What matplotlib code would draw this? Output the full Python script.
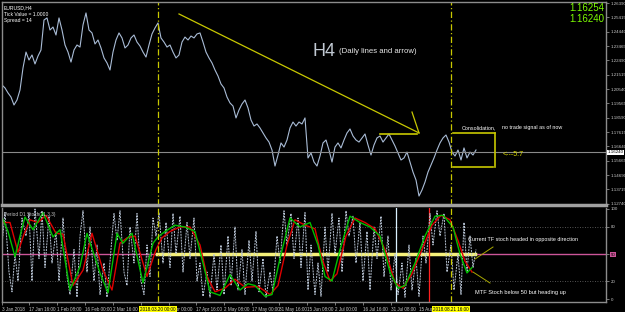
import matplotlib.pyplot as plt
import numpy as np

plt.rcParams['font.family'] = ['Liberation Sans', 'DejaVu Sans']

# EURUSD H4 closes, one reading every 3 chart pixels (3 Jan -> 21 Aug 2018)
price = [
    1.2082, 1.2062, 1.2028, 1.2000, 1.1946, 1.1980, 1.2048, 1.2198, 1.2306, 1.2252,
    1.2286, 1.2225, 1.2279, 1.2320, 1.2524, 1.2538, 1.2456, 1.2476, 1.2422, 1.2538,
    1.2456, 1.2354, 1.2306, 1.2238, 1.2320, 1.2354, 1.2340, 1.2490, 1.2572, 1.2456,
    1.2436, 1.2361, 1.2388, 1.2334, 1.2266, 1.2232, 1.2184, 1.2306, 1.2388, 1.2436,
    1.2402, 1.2334, 1.2354, 1.2402, 1.2422, 1.2374, 1.2347, 1.2306, 1.2272, 1.2354,
    1.2429, 1.2470, 1.2504, 1.2402, 1.2374, 1.2340, 1.2354, 1.2306, 1.2266, 1.2286,
    1.2374, 1.2408, 1.2388, 1.2415, 1.2402, 1.2429, 1.2436, 1.2374, 1.2306, 1.2266,
    1.2232, 1.2184, 1.2143, 1.2089, 1.2062, 1.2000, 1.1960, 1.1939, 1.1858, 1.1912,
    1.1953, 1.1980, 1.1926, 1.1844, 1.1803, 1.1817, 1.1790, 1.1756, 1.1722, 1.1694,
    1.1640, 1.1531, 1.1606, 1.1688, 1.1660, 1.1708, 1.1790, 1.1830, 1.1803, 1.1830,
    1.1817, 1.1858, 1.1586, 1.1620, 1.1558, 1.1531, 1.1599, 1.1688, 1.1708, 1.1640,
    1.1558, 1.1660, 1.1688, 1.1654, 1.1708, 1.1756, 1.1783, 1.1735, 1.1708, 1.1694,
    1.1722, 1.1749, 1.1674, 1.1606, 1.1674, 1.1722, 1.1735, 1.1694, 1.1722, 1.1749,
    1.1708, 1.1667, 1.1620, 1.1572, 1.1586, 1.1626, 1.1558, 1.1490, 1.1436, 1.1327,
    1.1368, 1.1422, 1.1490, 1.1538, 1.1586, 1.1640, 1.1688, 1.1722, 1.1742, 1.1694,
    1.1626, 1.1599, 1.1640, 1.1572, 1.1654, 1.1586, 1.1626, 1.1606, 1.1640,
]
bid = 1.16240
ask = 1.16254

price_ticks = [1.26390, 1.25415, 1.24440, 1.23465, 1.22490, 1.21515, 1.20540, 1.19565,
               1.18590, 1.17615, 1.16640, 1.15665, 1.14690, 1.13715, 1.12740]

# time axis (chart positions) and labels; the 19 Mar label sits under the marker box
time_ticks = [2, 29, 57, 85, 113, 141, 169, 196, 224, 252, 279, 307, 335, 363, 391, 419]
time_labels = ['3 Jan 2018', '17 Jan 16:00', '1 Feb 08:00', '16 Feb 00:00', '2 Mar 16:00',
               '', '3 Apr 00:00', '17 Apr 16:00', '2 May 08:00', '17 May 00:00',
               '31 May 16:00', '15 Jun 08:00', '2 Jul 00:00', '16 Jul 16:00', '31 Jul 08:00',
               '15 Aug 00:00']
marker_times = [158, 451]
marker_labels = ['2018.03.20 00:00', '2018.08.21 16:00']

# current timeframe stochastic (turning points)
fast_t = [2, 5, 9, 12, 15, 18, 22, 26, 29, 32, 35, 39, 42, 45, 49, 52, 56, 59, 63, 67,
          70, 74, 77, 80, 83, 87, 90, 94, 97, 100, 104, 107, 111, 114, 117, 120, 124, 127,
          130, 134, 137, 141, 144, 147, 150, 153, 156, 159, 163, 166, 170, 173, 176, 180,
          183, 187, 190, 194, 197, 200, 203, 207, 210, 214, 217, 221, 224, 228, 231, 235,
          238, 242, 245, 249, 252, 256, 259, 263, 266, 270, 273, 277, 280, 284, 287, 291,
          294, 298, 301, 305, 308, 311, 315, 318, 321, 325, 328, 332, 335, 339, 342, 346,
          349, 353, 356, 360, 363, 367, 370, 374, 377, 381, 384, 388, 391, 395, 398, 402,
          405, 409, 412, 416, 419, 423, 426, 430, 433, 437, 440, 444, 447, 451, 454, 458,
          461, 464, 467, 470, 473, 476]
fast_k = [60, 96, 30, 8, 50, 20, 90, 70, 95, 20, 100, 45, 98, 35, 92, 40, 75, 20, 90, 25,
          5, 55, 2, 70, 98, 30, 80, 20, 60, 5, 40, 2, 55, 95, 65, 98, 30, 15,
          80, 40, 95, 20, 5, 60, 25, 90, 70, 96, 40, 85, 35, 95, 50, 92,
          30, 85, 45, 90, 20, 40, 3, 30, 2, 50, 10, 60, 5, 70, 15, 80,
          10, 55, 5, 65, 20, 75, 8, 45, 2, 30, 8, 70, 40, 98, 60, 95,
          45, 90, 35, 96, 10, 60, 5, 40, 3, 80, 30, 95, 50, 90, 30, 98,
          70, 92, 40, 85, 20, 75, 10, 80, 45, 92, 25, 70, 10, 50, 5, 40,
          2, 60, 10, 45, 3, 70, 40, 95, 60, 98, 70, 95, 30, 60, 10, 50,
          5, 85, 30, 70, 35, 55]

# D1 stochastic main (green) and signal (red)
mtf_main_t = [2, 8, 15, 20, 25, 33, 43, 53, 60, 70, 80, 87, 100, 108, 117, 123, 132, 143,
              153, 158, 165, 175, 185, 195, 203, 210, 220, 230, 240, 248, 255, 265, 272,
              280, 290, 300, 310, 318, 325, 332, 340, 350, 360, 370, 380, 390, 398, 405,
              415, 425, 435, 443, 453, 460, 467, 472]
mtf_main = [91, 75, 47, 70, 91, 77, 96, 69, 77, 10, 36, 73, 29, 7, 73, 62, 73, 18,
            62, 69, 75, 82, 80, 75, 40, 8, 4, 27, 10, 17, 15, 3, 5,
            45, 90, 80, 85, 60, 25, 20, 55, 92, 85, 80, 70, 30, 12, 15,
            40, 70, 92, 93, 80, 50, 29, 35]
mtf_signal_t = [2, 10, 18, 24, 30, 38, 46, 56, 63, 73, 83, 92, 103, 112, 120, 127, 135,
                147, 156, 162, 170, 180, 190, 200, 207, 215, 225, 235, 245, 258, 270, 278,
                287, 295, 305, 315, 322, 330, 337, 346, 355, 365, 375, 385, 395, 403, 412,
                422, 432, 441, 450, 458, 465, 472]
mtf_signal = [85, 85, 52, 72, 88, 85, 93, 73, 72, 15, 32, 73, 32, 10, 62, 68, 70,
              25, 55, 68, 75, 80, 80, 60, 25, 8, 12, 22, 13, 14, 5, 15,
              60, 88, 82, 78, 45, 20, 28, 70, 90, 85, 78, 55, 18, 12, 28,
              55, 82, 93, 88, 65, 42, 30]

# hand-drawn objects on the chart (time, price)
trend_line = [(179, 1.2565), (419, 1.1756)]
arrow_leg = [(412, 1.1898), (419, 1.1756)]
resist_line = [(380, 1.1749), (417, 1.1749)]
box_top = [(453, 1.1756), (495, 1.1756)]
box_bottom = [(453, 1.1524), (493, 1.1524)]
box_side = [(495, 1.1756), (495, 1.1524)]

W, H = 625, 312


def px_box(l, t, r, b):
    return [l / W, 1 - b / H, (r - l) / W, (b - t) / H]


fig = plt.figure(figsize=(W / 100, H / 100), dpi=100, facecolor='black')
ax1 = fig.add_axes(px_box(2, 2, 606, 205), facecolor='black')
ax2 = fig.add_axes(px_box(2, 208, 606, 302), facecolor='black')

grey = '#8c8c8c'
yellow = '#c8c800'
label_col = '#c8c8c8'

# ---- main price panel ----
price_x = 2 + 3 * np.arange(len(price))
ax1.plot(price_x, price, color='#a9bcd6', lw=0.8)
ax1.axhline(bid, color='#8a8a8a', lw=0.8)

for seg, lw in [(trend_line, 0.9), (arrow_leg, 0.9), (resist_line, 1.2),
                (box_top, 1.2), (box_bottom, 1.2), (box_side, 1.2)]:
    xs, ys = zip(*seg)
    ax1.plot(xs, ys, color=yellow, lw=lw)

ax1.set_xlim(2, 606)
ax1.set_ylim(1.12660, 1.26464)
ax1.set_xticks([])
ax1.yaxis.tick_right()
ax1.set_yticks(price_ticks, ['%.5f' % v for v in price_ticks])
ax1.tick_params(axis='y', colors=grey, labelcolor=label_col, labelsize=3.2,
                length=2, width=0.6, pad=1.2)
for side in ['left', 'top', 'right']:
    ax1.spines[side].set_color(grey)
    ax1.spines[side].set_linewidth(1)
ax1.spines['bottom'].set_color('#a0a0a0')
ax1.spines['bottom'].set_linewidth(2.5)

ax1.text(1.003, bid, '%.5f' % bid, transform=ax1.get_yaxis_transform(), fontsize=3.2,
         color='black', va='center', ha='left',
         bbox=dict(facecolor='white', edgecolor='none', pad=0.4))

ax1.text(0.003, 0.985, 'EURUSD,H4', transform=ax1.transAxes, fontsize=3.6,
         color='white', va='top')
ax1.text(0.003, 0.952, 'Tick Value = 1.0000', transform=ax1.transAxes, fontsize=3.6,
         color='white', va='top')
ax1.text(0.003, 0.919, 'Spread = 14', transform=ax1.transAxes, fontsize=3.6,
         color='white', va='top')

ax1.text(0.997, 0.97, '%.5f' % ask, transform=ax1.transAxes, fontsize=7,
         color='#7cfc00', ha='right', va='center')
ax1.text(0.997, 0.915, '%.5f' % bid, transform=ax1.transAxes, fontsize=7,
         color='#7cfc00', ha='right', va='center')

ax1.text(312, 1.2313, 'H4', fontsize=13, color='#c0c8d2', va='center', ha='left')
ax1.text(339, 1.2313, '(Daily lines and arrow)', fontsize=5.6, color='#e8e8e8',
         va='center', ha='left')
ax1.text(462, 1.1790, 'Consolidation,', fontsize=3.9, color='white', va='center')
ax1.text(502, 1.1790, 'no trade signal as of now', fontsize=3.9, color='white',
         va='center')
ax1.text(503, 1.1612, '<---5:7', fontsize=5, color='#e0e000', va='center')

# ---- stochastic panel ----
ax2.axhline(80, color='#707070', lw=0.6, ls=(0, (1, 2)))
ax2.axhline(20, color='#707070', lw=0.6, ls=(0, (1, 2)))
ax2.axhline(50, color='#cc5599', lw=1)
ax2.plot([157, 475], [50, 50], color='#f5f07a', lw=2.5)
ax2.axvline(396, color='#d8f0ff', lw=0.9)
ax2.axvline(429, color='#ff2020', lw=0.9)

ax2.plot(fast_t, fast_k, color='#b8c4d4', lw=0.7, ls=(0, (2, 1)))
ax2.plot(mtf_signal_t, mtf_signal, color='#e00000', lw=1)
ax2.plot(mtf_main_t, mtf_main, color='#00c000', lw=1)

ax2.plot([493, 475], [57.8, 44.4], color='#a8a800', lw=0.7)
ax2.plot([473, 490], [30, 17.8], color='#a8a800', lw=0.7)
ax2.text(468, 66, 'Current TF stoch headed in opposite direction', fontsize=3.9,
         color='white', va='center')
ax2.text(475, 6.7, 'MTF Stoch below 50 but heading up', fontsize=4.1,
         color='white', va='center')
ax2.text(0.003, 0.96, 'Period D1 Stoch(11,3,3)', transform=ax2.transAxes,
         fontsize=3.4, color=label_col, va='top')

ax2.set_xlim(2, 606)
ax2.set_ylim(-3.3, 101.1)
ax2.yaxis.tick_right()
ax2.set_yticks([100, 80, 50, 20, 0], ['100', '80', '50', '20', '0'])
ax2.tick_params(axis='y', colors=grey, labelcolor=label_col, labelsize=3.2,
                length=2, width=0.6, pad=1.2)
for lbl in ax2.get_yticklabels():
    if lbl.get_text() == '50':
        lbl.set_bbox(dict(facecolor='#cc5599', edgecolor='none', pad=0.4))
        lbl.set_color('black')
ax2.set_xticks(time_ticks, time_labels)
ax2.tick_params(axis='x', colors=grey, labelcolor=label_col, labelsize=3.3,
                length=2, width=0.6, pad=1.5)
for lbl in ax2.get_xticklabels():
    lbl.set_ha('left')
ax2.spines['top'].set_visible(False)
for side in ['left', 'right', 'bottom']:
    ax2.spines[side].set_color(grey)
    ax2.spines[side].set_linewidth(1)

for t, lab in zip(marker_times, marker_labels):
    ax2.text(t, -0.055, lab, transform=ax2.get_xaxis_transform(), fontsize=3.3,
             color='black', ha='center', va='top', clip_on=False, zorder=5,
             bbox=dict(facecolor='#ffff00', edgecolor='none', pad=0.6))

# dash-dot event lines through both panels
for ax in (ax1, ax2):
    for t in marker_times:
        ax.axvline(t, color=yellow, lw=0.9, ls=(0, (5, 2, 1, 2)))

fig.savefig('out.png', dpi=100, facecolor='black')
